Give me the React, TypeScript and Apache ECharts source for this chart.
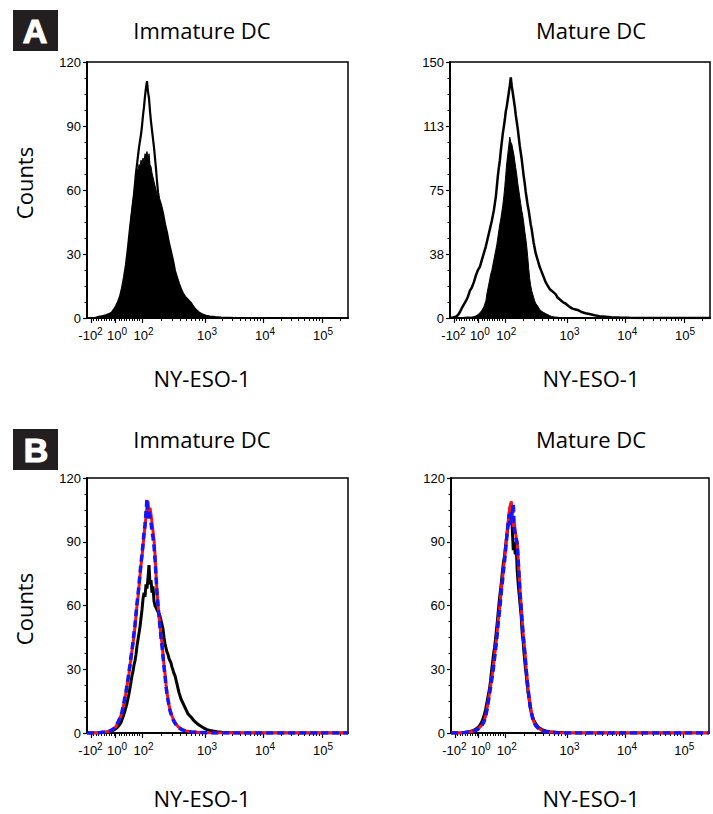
import React, { useEffect, useRef } from "react";
import * as echarts from "echarts";

// ---- axis definitions (display channels 0..261 on a logicle-like scale) ----
const X_MAX = 261;
const DECADE_LABELS: [string, string][] = [
  ["-10", "2"],
  ["10", "0"],
  ["10", "2"],
  ["10", "3"],
  ["10", "4"],
  ["10", "5"],
];
const DECADE_LABEL_CHANNELS = [3.5, 30, 56.5, 120, 178, 236];
const DECADE_TICK_CHANNELS = [4, 28, 55, 118, 176, 235];

const PANEL_TITLES = ["Immature DC", "Mature DC", "Immature DC", "Mature DC"];
const X_NAME = "NY-ESO-1";
const Y_NAME = "Counts";
const Y_MAX = [120, 150, 120, 120];
const Y_INTERVAL = [30, 37.5, 30, 30];

// ---- histogram data: [channel, count] ----
const aImmatureFilled: [number, number][] = [
  [0, 0], [8, 0], [12, 0.4], [15, 0.8], [17, 1.2], [19, 1.0], [21, 1.3], [23, 1.6], [25, 2.4], [27, 3.5],
  [29, 5], [31, 7], [33, 9.5], [34, 11.5], [35, 13], [36, 15], [37, 17], [38, 20], [39, 23], [40, 27],
  [41, 32], [42, 37], [43, 42], [44, 47], [45, 51], [46, 55], [47, 58], [48, 62], [49, 66], [50, 70],
  [51, 69], [52, 72], [53, 71], [54, 74], [55, 72], [56, 75], [57, 73], [58, 77], [59, 76], [60, 78],
  [61, 74], [62, 77], [63, 72], [64, 71], [65, 68], [66, 66], [67, 64], [68, 62], [69, 60], [70, 58],
  [71, 57], [72, 55], [73, 54], [74, 52], [75, 50], [76, 48], [77, 45], [78, 43], [79, 41], [80, 39],
  [81, 36], [82, 34], [83, 32], [84, 30], [85, 28], [86, 26], [87, 24], [88, 21], [89, 19.5], [90, 18.5],
  [91, 17], [92, 15], [93, 14], [94, 13], [95, 12], [96, 11], [97, 10], [98, 9.5], [99, 9], [100, 8.5],
  [102, 7.5], [104, 6.5], [106, 5], [108, 4], [110, 3], [112, 2.3], [114, 1.8], [116, 1.2], [118, 0.8],
  [121, 0.5], [125, 0.4], [130, 0.2], [136, 0.1], [145, 0], [261, 0],
];
const aImmatureOutline: [number, number][] = [
  [0, 0], [8, 0], [12, 0.5], [16, 0.9], [19, 1.3], [22, 1.8], [25, 2.6], [27, 4], [29, 5.5], [31, 7.5],
  [33, 10], [35, 14], [37, 19], [39, 25], [41, 33], [43, 42], [45, 50], [47, 58], [48, 63], [49, 68],
  [50, 72], [51, 76], [52, 80], [53, 83], [54, 86], [55, 90], [56, 95], [57, 99], [58, 104], [59, 108],
  [60, 111], [61, 106], [62, 103], [63, 97], [64, 92], [65, 88], [66, 84], [67, 80], [68, 75], [69, 70],
  [70, 64], [71, 59], [72, 56], [74, 53], [76, 49], [78, 44], [80, 40], [82, 35], [84, 31], [86, 27],
  [88, 22], [90, 19], [92, 16], [94, 13.5], [96, 11.5], [98, 10], [100, 9], [102, 8], [104, 7], [106, 5.5],
  [108, 4.3], [110, 3.3], [112, 2.5], [114, 2], [116, 1.5], [119, 1], [123, 0.7], [128, 0.4], [134, 0.2],
  [142, 0.1], [150, 0], [261, 0],
];
const aMatureFilled: [number, number][] = [
  [0, 0], [10, 0], [14, 0.4], [18, 0.6], [21, 0.5], [24, 0.8], [26, 1.2], [28, 2], [30, 3], [32, 4.5],
  [34, 6.6], [36, 10], [37, 14], [38, 17], [39, 20], [40, 23], [41, 26], [42, 28], [43, 31], [44, 34],
  [45, 37], [46, 40], [47, 43], [48, 47], [49, 51], [50, 55], [51, 58], [52, 62], [53, 66], [54, 71],
  [55, 77], [56, 84], [57, 91], [58, 96], [59, 101], [60, 106], [61, 103], [62, 102], [63, 99], [64, 96],
  [65, 92], [66, 88], [67, 84], [68, 79], [69, 75], [70, 71], [71, 67], [72, 63], [73, 60], [74, 56],
  [75, 51], [76, 47], [77, 42], [78, 36], [79, 29], [80, 23], [81, 19], [82, 16], [83, 14], [84, 12],
  [85, 10], [86, 8.6], [88, 7], [90, 5], [92, 4], [94, 3.2], [96, 2.6], [98, 2], [100, 1.4], [102, 0.9],
  [105, 0.6], [110, 0.3], [116, 0.1], [122, 0], [261, 0],
];
const aMatureOutline: [number, number][] = [
  [0, 0], [3, 0.3], [6, 0.8], [8, 1.8], [10, 3.5], [12, 6], [14, 8], [16, 10], [18, 12.5], [20, 16],
  [22, 18], [24, 21], [26, 25], [28, 28], [30, 30], [32, 34], [34, 38], [36, 42], [38, 47], [40, 52],
  [42, 57], [44, 63], [45, 67], [46, 71], [47, 77], [48, 83], [49, 88], [50, 92], [51, 98], [52, 103],
  [53, 108], [54, 112], [55, 116], [56, 121], [57, 124], [58, 128], [59, 132], [60, 136], [61, 141], [62, 136],
  [63, 132], [64, 128], [65, 124], [66, 119], [67, 115], [68, 111], [69, 106], [70, 101], [71, 97], [72, 93],
  [73, 88], [74, 83], [75, 79], [76, 74], [77, 70], [78, 66], [79, 63], [80, 59], [81, 55], [82, 52],
  [83, 48], [84, 44], [85, 41], [86, 38], [87, 36], [88, 34], [90, 30], [92, 27], [94, 24], [96, 21],
  [98, 19], [100, 17], [102, 16], [104, 15], [106, 14], [108, 12], [110, 11], [112, 10], [114, 9], [116, 8.5],
  [118, 7.5], [120, 6.5], [123, 5.5], [126, 5], [129, 4.5], [132, 3.5], [136, 2.8], [140, 2.3], [145, 1.6],
  [150, 1.1], [156, 0.8], [162, 0.5], [170, 0.3], [180, 0.1], [190, 0], [261, 0],
];
const bImmatureBlack: [number, number][] = [
  [0, 0], [10, 0], [15, 0.3], [20, 0.5], [24, 0.8], [26, 1.2], [28, 1.8], [30, 2.5], [32, 3.5], [34, 5],
  [36, 7.5], [38, 10.5], [40, 14], [42, 18.5], [44, 24], [45, 27], [46, 29], [47, 32], [48, 34], [49, 37],
  [50, 41], [51, 44], [52, 47], [53, 50], [54, 54], [55, 58], [56, 63], [57, 66], [58, 64], [59, 70],
  [60, 68], [61, 73], [62, 79], [63, 70], [64, 72], [65, 66], [66, 69], [67, 62], [68, 60], [69, 59],
  [70, 58], [71, 57], [72, 56], [73, 55], [74, 53], [75, 51], [76, 49], [77, 45], [78, 42], [79, 40],
  [80, 38], [81, 37], [82, 35], [83, 34], [84, 33], [85, 31], [86, 29.5], [87, 28], [88, 27], [89, 25],
  [90, 23], [91, 21], [92, 19], [93, 17.5], [94, 16], [95, 15], [96, 14], [97, 13], [98, 12], [99, 11],
  [100, 10], [101, 9], [102, 8.5], [103, 8], [104, 7.5], [105, 7], [106, 6.3], [108, 5.3], [110, 4.5],
  [112, 3.8], [114, 3.2], [116, 2.6], [118, 2], [120, 1.6], [123, 1.2], [126, 0.9], [130, 0.6], [135, 0.4],
  [140, 0.25], [148, 0.1], [160, 0], [261, 0],
];
const bImmatureRed: [number, number][] = [
  [0, 0], [10, 0], [16, 0.3], [20, 0.6], [23, 0.9], [25, 1.3], [27, 2], [29, 3], [31, 5], [33, 7],
  [35, 9.5], [36, 12], [37, 14], [38, 16.5], [39, 19], [40, 22], [41, 25], [42, 28], [43, 32], [44, 35],
  [45, 39], [46, 42], [47, 46], [48, 50], [49, 55], [50, 60], [51, 64], [52, 69], [53, 74], [54, 79],
  [55, 83], [56, 88], [57, 93], [58, 97], [59, 102], [60, 106], [61, 109], [62, 103], [63, 106], [64, 103],
  [65, 99], [66, 95], [67, 91], [68, 84], [69, 75], [70, 66], [71, 61], [72, 55], [73, 50], [74, 46],
  [75, 42], [76, 37], [77, 32], [78, 28], [79, 23], [80, 19], [81, 16], [82, 13], [83, 11], [84, 9.5],
  [85, 8], [86, 6.8], [88, 5], [90, 3.6], [92, 2.6], [95, 1.7], [99, 1], [104, 0.6], [110, 0.3], [120, 0.1],
  [130, 0], [261, 0],
];
const bImmatureBlue: [number, number][] = [
  [0, 0], [10, 0], [16, 0.3], [20, 0.6], [23, 1], [25, 1.5], [27, 2.2], [29, 3.3], [31, 5], [33, 7.2],
  [35, 10], [36, 12], [37, 14.5], [38, 17], [39, 19.5], [40, 22.5], [41, 25.5], [42, 29], [43, 32], [44, 36],
  [45, 39], [46, 43], [47, 47], [48, 51], [49, 56], [50, 61], [51, 65], [52, 70], [53, 75], [54, 80],
  [55, 84], [56, 89], [57, 94], [58, 98], [59, 104], [60, 110], [61, 101], [62, 104], [63, 102], [64, 99],
  [65, 95], [66, 92], [67, 88], [68, 82], [69, 74], [70, 66], [71, 60], [72, 55], [73, 50], [74, 45],
  [75, 41], [76, 36], [77, 31], [78, 27], [79, 22], [80, 18.5], [81, 15.5], [82, 13], [83, 10.5], [84, 9],
  [85, 7.5], [86, 6.3], [88, 4.6], [90, 3.3], [92, 2.4], [95, 1.5], [99, 0.9], [104, 0.5], [110, 0.3],
  [120, 0.1], [130, 0], [261, 0],
];
const bMatureBlack: [number, number][] = [
  [0, 0], [10, 0], [14, 0.3], [18, 0.6], [21, 0.9], [23, 1.3], [25, 1.8], [27, 2.5], [29, 3.5], [31, 5],
  [33, 7.5], [35, 11], [36, 13.5], [37, 16], [38, 18.5], [39, 21], [40, 24.5], [41, 29], [42, 33], [43, 37],
  [44, 40], [45, 44], [46, 48.5], [47, 53], [48, 58], [49, 63], [50, 67], [51, 71], [52, 76], [53, 80],
  [54, 83], [55, 87], [56, 91], [57, 95], [58, 99], [59, 104], [60, 107], [61, 106], [62, 96], [63, 86],
  [64, 90], [65, 84], [66, 88], [67, 76], [68, 70], [69, 65], [70, 60], [71, 55], [72, 47], [73, 43],
  [74, 37], [75, 32], [76, 28], [77, 23], [78, 19], [79, 16], [80, 12.5], [81, 10], [82, 8.5], [83, 7],
  [84, 5.8], [85, 4.9], [87, 3.5], [89, 2.5], [92, 1.6], [96, 1], [100, 0.6], [106, 0.3], [115, 0.1],
  [125, 0], [261, 0],
];
const bMatureRed: [number, number][] = [
  [0, 0], [10, 0], [16, 0.3], [20, 0.6], [23, 0.9], [25, 1.3], [27, 1.8], [29, 2.6], [31, 3.6], [33, 5.2],
  [35, 8], [36, 10.5], [37, 13], [38, 16], [39, 19], [40, 22], [41, 25], [42, 28], [43, 32], [44, 36],
  [45, 40], [46, 44], [47, 49], [48, 54], [49, 58], [50, 63], [51, 68], [52, 72], [53, 77], [54, 81],
  [55, 86], [56, 91], [57, 96], [58, 100], [59, 104], [60, 107], [61, 109], [62, 103], [63, 97], [64, 99],
  [65, 95], [66, 92], [67, 90], [68, 82], [69, 74], [70, 66], [71, 60], [72, 53], [73, 47], [74, 42],
  [75, 37], [76, 31], [77, 26], [78, 21], [79, 17], [80, 13.5], [81, 10.5], [82, 8.5], [83, 6.5], [84, 5],
  [86, 3.5], [88, 2.5], [90, 1.8], [92, 1.1], [96, 0.6], [102, 0.3], [110, 0.1], [120, 0], [261, 0],
];
const bMatureBlue: [number, number][] = [
  [0, 0], [10, 0], [16, 0.3], [20, 0.6], [23, 0.9], [25, 1.2], [27, 1.7], [29, 2.4], [31, 3.4], [33, 5],
  [35, 7.5], [36, 10], [37, 12.5], [38, 15.5], [39, 18.5], [40, 21.5], [41, 24.5], [42, 27.5], [43, 31], [44, 35],
  [45, 39], [46, 43], [47, 48], [48, 53], [49, 57], [50, 62], [51, 67], [52, 71], [53, 76], [54, 80],
  [55, 85], [56, 90], [57, 95], [58, 99], [59, 103], [60, 98], [61, 104], [62, 100], [63, 108], [64, 96],
  [65, 94], [66, 91], [67, 89], [68, 81], [69, 73], [70, 65], [71, 59], [72, 52], [73, 46], [74, 41],
  [75, 36], [76, 30], [77, 25], [78, 20.5], [79, 16.5], [80, 13], [81, 10], [82, 8], [83, 6.2], [84, 4.8],
  [86, 3.3], [88, 2.4], [90, 1.7], [92, 1], [96, 0.6], [102, 0.3], [110, 0.1], [120, 0], [261, 0],
];

// ---- layout ----
const GRIDS = [
  { left: 87, top: 62, width: 261, height: 256 },
  { left: 450, top: 62, width: 260, height: 256 },
  { left: 87, top: 478, width: 261, height: 255 },
  { left: 451, top: 478, width: 258, height: 255 },
];

const TICK_FONT = '"Liberation Sans", Arial, sans-serif';
const TITLE_FONT = '"Open Sans", "Noto Sans", sans-serif';

function minorTickChannels(): number[] {
  const [cNeg, , c2, c3, c4, c5] = DECADE_TICK_CHANNELS;
  const out: number[] = [];
  for (let v = -90; v <= 90; v += 10) {
    if (v === 0) continue;
    out.push(cNeg + ((v + 100) / 200) * (c2 - cNeg));
  }
  const dec = [c2, c3, c4, c5, c5 + (c5 - c4)];
  for (let i = 0; i < 4; i++) {
    for (let k = 2; k <= 9; k++) {
      const p = dec[i] + Math.log10(k) * (dec[i + 1] - dec[i]);
      if (p < X_MAX) out.push(p);
    }
  }
  return out;
}

export default function App() {
  const ref = useRef<HTMLDivElement>(null);

  useEffect(() => {
    if (!ref.current) return;
    const chart = echarts.init(ref.current, undefined, { renderer: "svg" });
    const minor = minorTickChannels();

    const grids = GRIDS.map((g) => ({
      ...g,
      show: true,
      borderColor: "#000",
      borderWidth: 1.5,
      backgroundColor: "transparent",
    }));

    const xAxes: any[] = [];
    GRIDS.forEach((_, i) => {
      xAxes.push({
        gridIndex: i,
        type: "value",
        position: "bottom",
        min: 0,
        max: X_MAX,
        axisLine: { show: true, onZero: false, lineStyle: { color: "#000", width: 2 } },
        axisTick: { show: true, customValues: DECADE_TICK_CHANNELS, length: 5, lineStyle: { color: "#000", width: 1.2 } },
        splitLine: { show: false },
        axisLabel: {
          show: true,
          customValues: DECADE_LABEL_CHANNELS,
          margin: 8,
          formatter: (v: number) => {
            let idx = 0;
            let best = Infinity;
            DECADE_LABEL_CHANNELS.forEach((c, j) => {
              const d = Math.abs(c - v);
              if (d < best) {
                best = d;
                idx = j;
              }
            });
            const [b, s] = DECADE_LABELS[idx];
            return `{b|${b}}{s|${s}}`;
          },
          rich: {
            b: { fontSize: 13, fontFamily: TICK_FONT, color: "#000", lineHeight: 16, verticalAlign: "bottom" },
            s: { fontSize: 10, fontFamily: TICK_FONT, color: "#000", lineHeight: 16, verticalAlign: "top" },
          },
        },
      });
    });
    GRIDS.forEach((_, i) => {
      xAxes.push({
        gridIndex: i,
        type: "value",
        position: "bottom",
        min: 0,
        max: X_MAX,
        axisLine: { show: false, onZero: false },
        axisTick: { show: true, customValues: minor, length: 3, lineStyle: { color: "#000", width: 1 } },
        axisLabel: { show: false },
        splitLine: { show: false },
      });
    });

    const yAxes = GRIDS.map((_, i) => ({
      gridIndex: i,
      type: "value",
      min: 0,
      max: Y_MAX[i],
      interval: Y_INTERVAL[i],
      axisLine: { show: true, lineStyle: { color: "#000", width: 2 } },
      axisTick: { show: true, length: 4, lineStyle: { color: "#000", width: 1.2 } },
      minorTick: { show: true, splitNumber: 4, length: 2.5, lineStyle: { color: "#000", width: 1 } },
      splitLine: { show: false },
      axisLabel: {
        color: "#000",
        fontSize: 13,
        fontFamily: TICK_FONT,
        margin: 6,
        formatter: (v: number) => String(Math.round(v)),
      },
    }));

    const filled = (name: string, data: [number, number][], i: number) => ({
      name,
      type: "line",
      xAxisIndex: i,
      yAxisIndex: i,
      data,
      symbol: "none",
      lineStyle: { color: "#000", width: 1 },
      areaStyle: { color: "#000", opacity: 1 },
      z: 2,
    });
    const outline = (name: string, data: [number, number][], i: number, color: string, width: number, type: any = "solid", z = 3) => ({
      name,
      type: "line",
      xAxisIndex: i,
      yAxisIndex: i,
      data,
      symbol: "none",
      lineStyle: { color, width, type },
      z,
    });

    const series = [
      filled("Immature DC isotype", aImmatureFilled, 0),
      outline("Immature DC NY-ESO-1", aImmatureOutline, 0, "#000", 2.2),
      filled("Mature DC isotype", aMatureFilled, 1),
      outline("Mature DC NY-ESO-1", aMatureOutline, 1, "#000", 2.5),
      outline("Immature DC black", bImmatureBlack, 2, "#000", 3, "solid", 3),
      outline("Immature DC red", bImmatureRed, 2, "#ff1010", 3, "solid", 4),
      outline("Immature DC blue", bImmatureBlue, 2, "#1414ff", 3.5, [7, 4], 5),
      outline("Mature DC black", bMatureBlack, 3, "#000", 3, "solid", 3),
      outline("Mature DC red", bMatureRed, 3, "#ff1010", 3, "solid", 4),
      outline("Mature DC blue", bMatureBlue, 3, "#1414ff", 3.5, [7, 4], 5),
    ];

    const titleStyle = (text: string) => ({
      text,
      fill: "#000",
      font: `22px ${TITLE_FONT}`,
      textAlign: "center",
      textVerticalAlign: "middle",
    });

    const graphic: any[] = [
      { type: "text", x: 202, y: 30, style: titleStyle(PANEL_TITLES[0]) },
      { type: "text", x: 591, y: 30, style: titleStyle(PANEL_TITLES[1]) },
      { type: "text", x: 202, y: 439, style: titleStyle(PANEL_TITLES[2]) },
      { type: "text", x: 591, y: 439, style: titleStyle(PANEL_TITLES[3]) },
      { type: "text", x: 202, y: 378, style: titleStyle(X_NAME) },
      { type: "text", x: 591, y: 378, style: titleStyle(X_NAME) },
      { type: "text", x: 202, y: 798, style: titleStyle(X_NAME) },
      { type: "text", x: 591, y: 798, style: titleStyle(X_NAME) },
      { type: "text", x: 24, y: 183, rotation: Math.PI / 2, style: titleStyle(Y_NAME) },
      { type: "text", x: 24, y: 609, rotation: Math.PI / 2, style: titleStyle(Y_NAME) },
      { type: "rect", shape: { x: 13, y: 10, width: 45, height: 41 }, style: { fill: "#231f20" } },
      {
        type: "text",
        x: 35,
        y: 31,
        style: {
          text: "A",
          fill: "#fff",
          stroke: "#fff",
          lineWidth: 1.2,
          font: 'bold 34px "Liberation Sans", Arial, sans-serif',
          textAlign: "center",
          textVerticalAlign: "middle",
        },
      },
      { type: "rect", shape: { x: 13, y: 429, width: 45, height: 41 }, style: { fill: "#231f20" } },
      {
        type: "text",
        x: 36,
        y: 450,
        style: {
          text: "B",
          fill: "#fff",
          stroke: "#fff",
          lineWidth: 1.2,
          font: 'bold 34px "Liberation Sans", Arial, sans-serif',
          textAlign: "center",
          textVerticalAlign: "middle",
        },
      },
    ];

    chart.setOption({
      animation: false,
      backgroundColor: "#fff",
      grid: grids,
      xAxis: xAxes,
      yAxis: yAxes,
      series,
      graphic,
    });

    return () => chart.dispose();
  }, []);

  return (
    <div
      ref={ref}
      style={{ position: "absolute", left: 0, top: 0, width: 713, height: 814 }}
    />
  );
}
